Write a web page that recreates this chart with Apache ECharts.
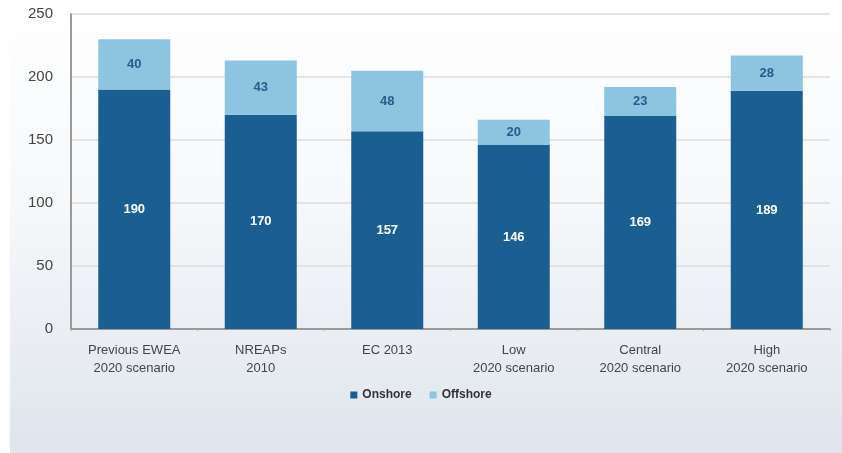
<!DOCTYPE html>
<html>
<head>
<meta charset="utf-8">
<script src="https://cdn.jsdelivr.net/npm/echarts@6/dist/echarts.min.js"></script>
<style>
  html, body { margin: 0; padding: 0; background: #ffffff; }
  #chart { width: 842px; height: 453px; }
</style>
</head>
<body>
<div id="chart"></div>
<script>
// Wind capacity scenarios for 2020 (GW), onshore vs offshore
const categories = [
  'Previous EWEA\n2020 scenario',
  'NREAPs\n2010',
  'EC 2013',
  'Low\n2020 scenario',
  'Central\n2020 scenario',
  'High\n2020 scenario'
];
const onshore = [190, 170, 157, 146, 169, 189];
const offshore = [40, 43, 48, 20, 23, 28];
const yTicks = { min: 0, max: 250, interval: 50 };

const chart = echarts.init(document.getElementById('chart'), null, { renderer: 'canvas' });

const fontFamily = '"Liberation Sans", Arial, sans-serif';

chart.setOption({
  animation: false,
  graphic: [{
    type: 'rect',
    z: -10,
    silent: true,
    shape: { x: 10, y: 0, width: 832, height: 453 },
    style: {
      fill: new echarts.graphic.LinearGradient(0, 0, 0, 1, [
        { offset: 0, color: '#ffffff' },
        { offset: 0.45, color: '#f6f8fa' },
        { offset: 1, color: '#dfe5ed' }
      ])
    }
  }],
  grid: { left: 71, right: 12, top: 14, bottom: 124 },
  legend: {
    data: ['Onshore', 'Offshore'],
    left: 'center',
    top: 384,
    itemWidth: 7,
    itemHeight: 7,
    itemGap: 18,
    icon: 'rect',
    textStyle: { fontFamily, fontSize: 12, fontWeight: 'bold', color: '#333333' }
  },
  xAxis: {
    type: 'category',
    data: categories,
    axisLine: { lineStyle: { color: '#9a9a9a', width: 2 } },
    axisTick: { show: true, length: 2, lineStyle: { color: '#aaaaaa' } },
    axisLabel: {
      fontFamily, fontSize: 13, color: '#444444', lineHeight: 18, margin: 12
    }
  },
  yAxis: {
    type: 'value',
    min: yTicks.min,
    max: yTicks.max,
    interval: yTicks.interval,
    axisLine: { show: true, lineStyle: { color: '#9a9a9a', width: 2 } },
    axisTick: { show: false },
    axisLabel: { fontFamily, fontSize: 15, color: '#444444', margin: 18 },
    splitLine: { lineStyle: { color: '#dddddd', width: 1.5 } }
  },
  series: [
    {
      name: 'Onshore',
      type: 'bar',
      stack: 'total',
      data: onshore,
      barWidth: 72,
      itemStyle: { color: '#1b5e91' },
      label: {
        show: true,
        position: 'inside',
        fontFamily, fontSize: 13, fontWeight: 'bold', color: '#ffffff'
      }
    },
    {
      name: 'Offshore',
      type: 'bar',
      stack: 'total',
      data: offshore,
      barWidth: 72,
      itemStyle: { color: '#8dc4df' },
      label: {
        show: true,
        position: 'inside',
        fontFamily, fontSize: 13, fontWeight: 'bold', color: '#2b5b8c'
      }
    }
  ]
});
</script>
</body>
</html>
